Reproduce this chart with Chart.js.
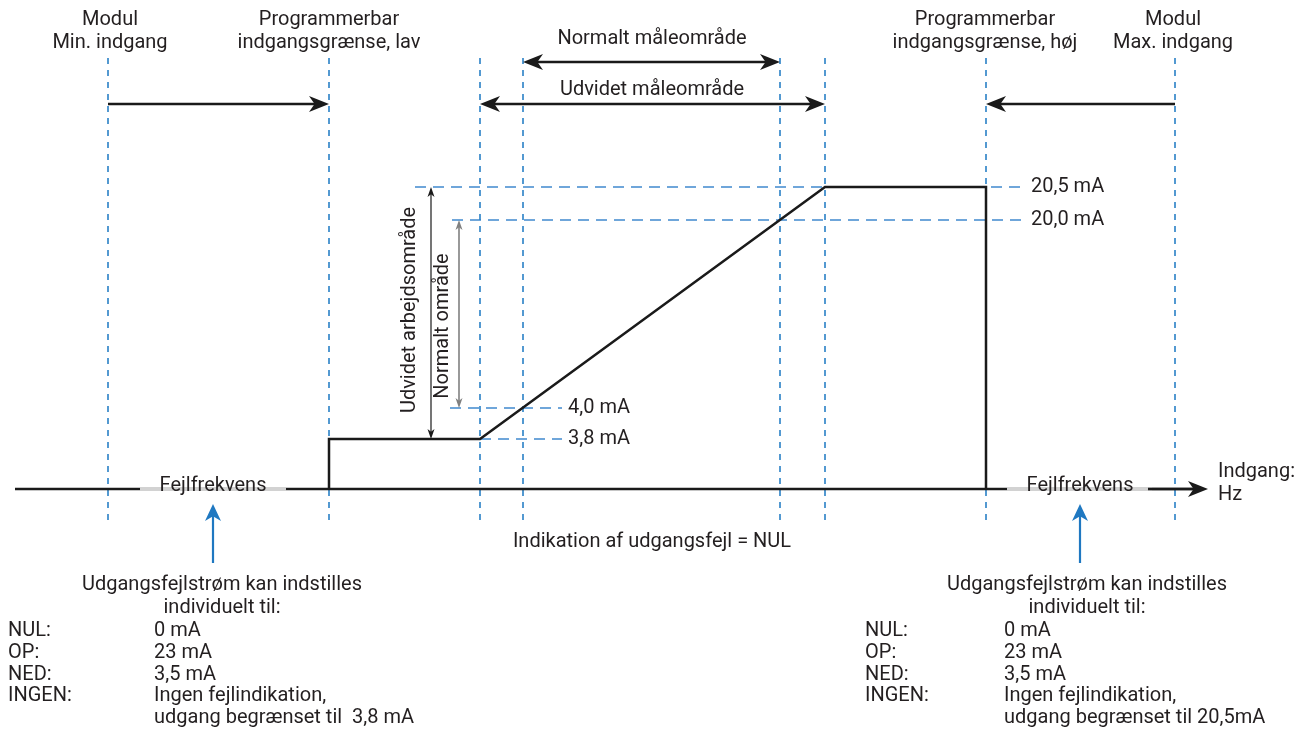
<!DOCTYPE html>
<html>
<head>
<meta charset="utf-8">
<title>Udgangsstrøm vs. indgang</title>
<script src="https://cdn.jsdelivr.net/npm/chart.js@4/dist/chart.umd.min.js"></script>
<style>
  html, body { margin: 0; background: #fff; }
  #diagram { display: block; }
</style>
</head>
<body>
<canvas id="diagram" width="1306" height="731"></canvas>
<script>
// Diagram units: x = input axis position, y = drawing height (top = 0)

// vertical markers on the input axis
const markerX = [108, 329, 480, 523, 780, 825, 986, 1175];

// current levels (dashed horizontal guides)
const levelNames = ['3,8 mA', '4,0 mA', '20,0 mA', '20,5 mA'];
const levelY = [439, 408, 220, 187];
const levelFrom = [480, 450, 452, 415];
const levelTo = [562, 562, 1023, 1023];

// output current curve
const outX = [329, 329, 480, 825, 986, 986];
const outY = [489, 439, 439, 187, 187, 489];

// input axis (baseline) and the "Fejlfrekvens" bands
const baseY = 489;
const baseStart = 15;
const baseEnd = 1208;
const errBandFrom = [140, 1007];
const errBandTo = [286, 1152];

// header labels over the markers
const headerX = [110, 329, 985, 1173];
const headerLines = [
  ['Modul', 'Min. indgang'],
  ['Programmerbar', 'indgangsgrænse, lav'],
  ['Programmerbar', 'indgangsgrænse, høj'],
  ['Modul', 'Max. indgang']
];

// error current options (bottom blocks)
const errTitle = ['Udgangsfejlstrøm kan indstilles', 'individuelt til:'];
const errKeys = ['NUL:', 'OP:', 'NED:', 'INGEN:', ''];
const errValsLow = ['0 mA', '23 mA', '3,5 mA', 'Ingen fejlindikation,', 'udgang begrænset til  3,8 mA'];
const errValsHigh = ['0 mA', '23 mA', '3,5 mA', 'Ingen fejlindikation,', 'udgang begrænset til 20,5mA'];

const TEXT = '#231f20';
const FONT = '"Roboto", "DejaVu Sans", sans-serif';
const MARK_BLUE = '#2a80c6';
const LEVEL_BLUE = '#6fa6da';

const datasets = [];

// output curve first so it is drawn on top
datasets.push({
  data: outX.map((v, i) => ({ x: v, y: outY[i] })),
  borderColor: '#1a1a1a', borderWidth: 2.5, order: 0
});

markerX.forEach(mx => {
  datasets.push({
    data: [{ x: mx, y: 58 }, { x: mx, y: 524 }],
    borderColor: MARK_BLUE, borderWidth: 1.6, borderDash: [6, 6], order: 2
  });
});

levelY.forEach((ly, i) => {
  datasets.push({
    data: [{ x: levelFrom[i], y: ly }, { x: levelTo[i], y: ly }],
    borderColor: LEVEL_BLUE, borderWidth: 2, borderDash: [11, 7], order: 3
  });
});

// baseline: black pieces between the grey error bands
const blackCuts = [baseStart].concat(...errBandFrom.map((f, i) => [f, errBandTo[i]]), [baseEnd - 12]);
for (let i = 0; i < blackCuts.length; i += 2) {
  datasets.push({
    data: [{ x: blackCuts[i], y: baseY }, { x: blackCuts[i + 1], y: baseY }],
    borderColor: '#1a1a1a', borderWidth: 2.5, order: 1
  });
}
errBandFrom.forEach((f, i) => {
  datasets.push({
    data: [{ x: f, y: baseY }, { x: errBandTo[i], y: baseY }],
    borderColor: '#d2d2d2', borderWidth: 4, order: 1
  });
});

datasets.forEach(d => {
  d.showLine = true;
  d.pointRadius = 0;
  d.fill = false;
  d.tension = 0;
  d.borderCapStyle = 'butt';
  d.borderJoinStyle = 'miter';
});

// arrows: [x1, y1, x2, y2, headAtStart, headAtEnd]
const rangeArrows = [
  [108, 104, 329, 104, false, true],
  [1175, 104, 986, 104, false, true],
  [523, 62, 780, 62, true, true],
  [480, 104, 825, 104, true, true]
];

function arrowHead(ctx, x1, y1, x2, y2, len, half, color) {
  const a = Math.atan2(y2 - y1, x2 - x1);
  ctx.save();
  ctx.translate(x2, y2);
  ctx.rotate(a);
  ctx.fillStyle = color;
  ctx.beginPath();
  ctx.moveTo(0, 0);
  ctx.lineTo(-len, -half);
  ctx.lineTo(-len * 0.72, 0);
  ctx.lineTo(-len, half);
  ctx.closePath();
  ctx.fill();
  ctx.restore();
}

function arrow(ctx, x1, y1, x2, y2, s, e, color, width, len, half) {
  const a = Math.atan2(y2 - y1, x2 - x1);
  const dx = Math.cos(a) * len * 0.7, dy = Math.sin(a) * len * 0.7;
  ctx.save();
  ctx.strokeStyle = color;
  ctx.lineWidth = width;
  ctx.beginPath();
  ctx.moveTo(s ? x1 + dx : x1, s ? y1 + dy : y1);
  ctx.lineTo(e ? x2 - dx : x2, e ? y2 - dy : y2);
  ctx.stroke();
  ctx.restore();
  if (e) arrowHead(ctx, x1, y1, x2, y2, len, half, color);
  if (s) arrowHead(ctx, x2, y2, x1, y1, len, half, color);
}

const diagramPlugin = {
  id: 'diagram',
  afterDatasetsDraw(chart) {
    const { ctx, scales: { x, y } } = chart;
    const px = v => x.getPixelForValue(v);
    const py = v => y.getPixelForValue(v);

    rangeArrows.forEach(r => {
      arrow(ctx, px(r[0]), py(r[1]), px(r[2]), py(r[3]), r[4], r[5], '#1a1a1a', 2.5, 20, 8);
    });
    // axis arrow
    arrow(ctx, px(baseEnd - 60), py(baseY), px(baseEnd), py(baseY), false, true, '#1a1a1a', 2.5, 20, 8);
    // vertical range arrows
    arrow(ctx, px(431), py(levelY[3]), px(431), py(levelY[0]), true, true, '#1a1a1a', 1.2, 10, 3.5);
    arrow(ctx, px(459), py(levelY[2]), px(459), py(levelY[1]), true, true, '#808080', 1.6, 10, 3.5);
    // blue arrows up to the error bands
    arrow(ctx, px(213), py(563), px(213), py(504), false, true, '#1f78c1', 2.2, 17, 8);
    arrow(ctx, px(1080), py(563), px(1080), py(504), false, true, '#1f78c1', 2.2, 17, 8);

    ctx.save();
    ctx.fillStyle = TEXT;
    ctx.font = '20px ' + FONT;
    ctx.textBaseline = 'middle';

    ctx.textAlign = 'center';
    headerX.forEach((hx, i) => {
      headerLines[i].forEach((t, j) => ctx.fillText(t, px(hx), py(20 + j * 23)));
    });
    ctx.fillText('Normalt måleområde', px(652), py(39));
    ctx.fillText('Udvidet måleområde', px(652), py(90));
    ctx.fillText('Fejlfrekvens', px(213), py(486));
    ctx.fillText('Fejlfrekvens', px(1080), py(486));
    ctx.fillText('Indikation af udgangsfejl = NUL', px(652), py(542));

    ctx.textAlign = 'left';
    ctx.fillText('Indgang:', px(1218), py(472));
    ctx.fillText('Hz', px(1218), py(495));
    levelNames.forEach((n, i) => {
      const lx = i < 2 ? 568 : 1031;
      ctx.fillText(n, px(lx), py(levelY[i]));
    });

    // rotated range labels
    [['Udvidet arbejdsområde', 410, 310], ['Normalt område', 443, 326]].forEach(([t, tx, ty]) => {
      ctx.save();
      ctx.translate(px(tx), py(ty));
      ctx.rotate(-Math.PI / 2);
      ctx.textAlign = 'center';
      ctx.fillText(t, 0, 0);
      ctx.restore();
    });

    // bottom blocks
    [[222, 8, 154, errValsLow], [1087, 865, 1004, errValsHigh]].forEach(([cx, kx, vx, vals]) => {
      ctx.textAlign = 'center';
      errTitle.forEach((t, j) => ctx.fillText(t, px(cx), py(585 + j * 23)));
      ctx.textAlign = 'left';
      errKeys.forEach((k, j) => {
        const ry = 631 + j * 21.8;
        if (k) ctx.fillText(k, px(kx), py(ry));
        ctx.fillText(vals[j], px(vx), py(ry));
      });
    });
    ctx.restore();
  }
};

new Chart(document.getElementById('diagram').getContext('2d'), {
  type: 'scatter',
  data: { datasets },
  options: {
    responsive: false,
    animation: false,
    layout: { padding: 0 },
    plugins: { legend: { display: false }, tooltip: { enabled: false } },
    scales: {
      x: { type: 'linear', min: 0, max: 1306, display: false },
      y: { type: 'linear', min: 0, max: 731, reverse: true, display: false }
    }
  },
  plugins: [diagramPlugin]
});
</script>
</body>
</html>
